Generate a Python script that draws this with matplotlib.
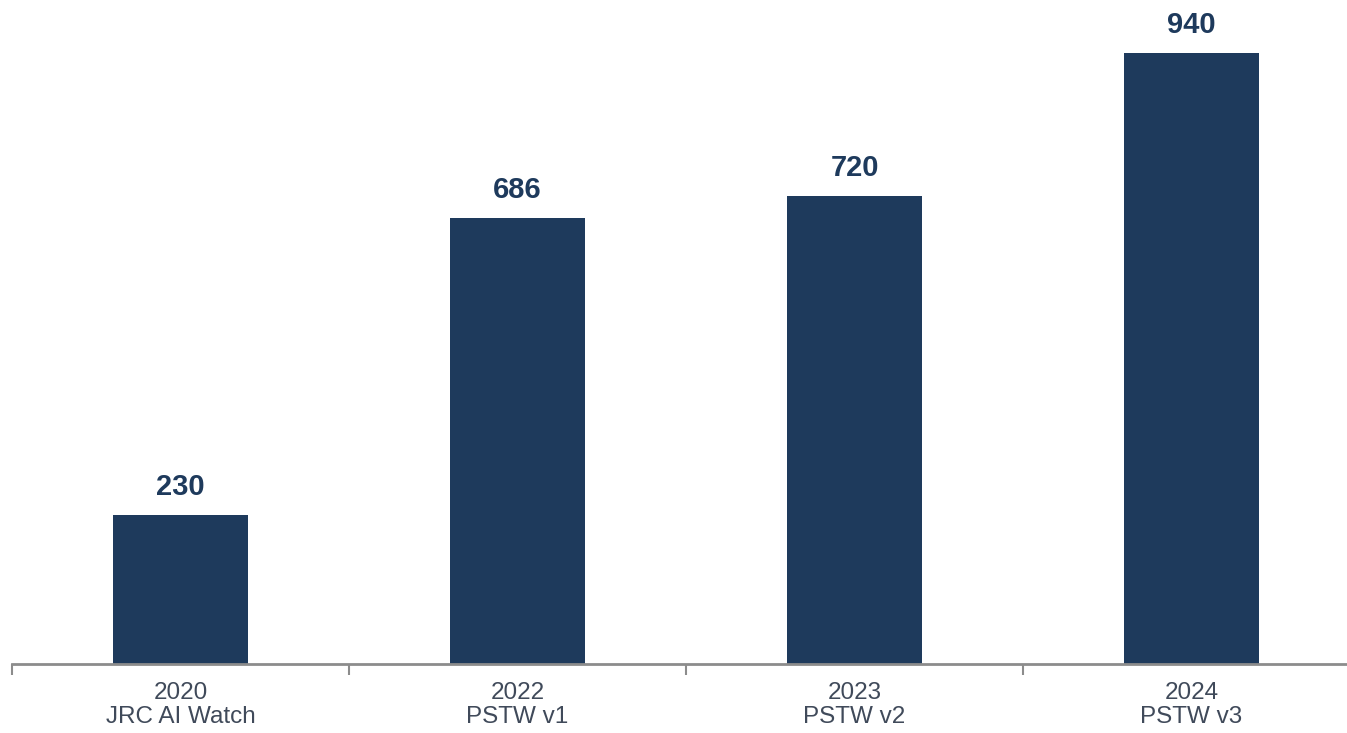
import matplotlib.pyplot as plt

# Data
years = ['2020', '2022', '2023', '2024']
sources = ['JRC AI Watch', 'PSTW v1', 'PSTW v2', 'PSTW v3']
counts = [230, 686, 720, 940]

bar_color = '#1E3A5C'
axis_color = '#8C8C8C'

plt.rcParams['font.family'] = ['Liberation Sans', 'DejaVu Sans']

fig = plt.figure(figsize=(13.47, 7.33), dpi=100)
# axes runs a bit past the right edge, like the reference crop
ax = fig.add_axes([12 / 1347, 69 / 733, 1348 / 1347, 648 / 733])

x = range(len(counts))
ax.bar(x, counts, width=0.4, color=bar_color)
ax.set_xlim(-0.5, len(counts) - 0.5)
ax.set_ylim(0, 997)

for i, v in enumerate(counts):
    ax.annotate(str(v), (i, v), xytext=(0, 10), textcoords='offset points',
                ha='center', va='bottom', fontsize=21, fontweight='bold',
                color=bar_color)

# category labels
ax.set_xticks(list(x))
ax.set_xticklabels([f'{y}\n{s}' for y, s in zip(years, sources)],
                   fontsize=17.5, color='#404A5A', linespacing=1.1)
ax.tick_params(axis='x', length=0, pad=13)

# separator ticks between categories
ax.set_xticks([i - 0.5 for i in range(len(counts) + 1)], minor=True)
ax.tick_params(axis='x', which='minor', length=8, width=1.5, color=axis_color)

ax.set_yticks([])
for side in ['top', 'right', 'left']:
    ax.spines[side].set_visible(False)
ax.spines['bottom'].set_color(axis_color)
ax.spines['bottom'].set_linewidth(2)

plt.savefig('out.png', dpi=100)
plt.close()
